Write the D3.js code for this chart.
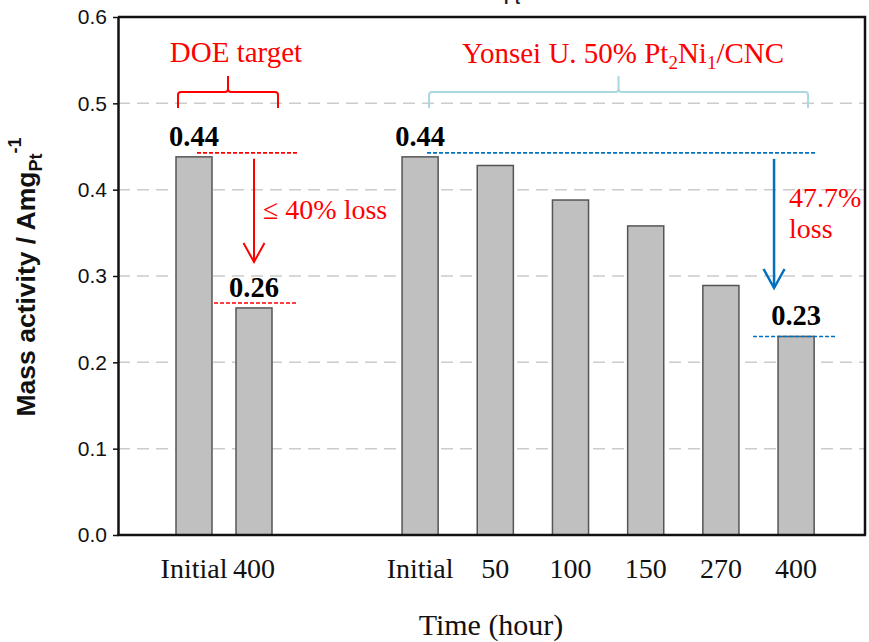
<!DOCTYPE html>
<html>
<head>
<meta charset="utf-8">
<script src="https://cdn.jsdelivr.net/npm/d3@7"></script>
<style>
  body { margin: 0; background: #fff; }
</style>
</head>
<body>
<div id="chart"></div>
<script>
// Data
const doeHours = ["Initial", "400"];
const doeValues = [0.438, 0.263];
const yonseiHours = ["Initial", "50", "100", "150", "270", "400"];
const yonseiValues = [0.438, 0.428, 0.388, 0.358, 0.289, 0.230];
const yTicks = [0, 0.1, 0.2, 0.3, 0.4, 0.5, 0.6];
const gridTicks = [0.1, 0.2, 0.3, 0.4, 0.5];
const doeLabels = ["0.44", "0.26"];
const yonseiLabels = ["0.44", "", "", "", "", "0.23"];

/**
 * Proportions
 */
let svgWidth = 869;
let svgHeight = 642;
let plotLeft = 118;
let plotRight = 865;
let plotTop = 17;
let plotBottom = 535;

const serif = "'Liberation Serif', 'Times New Roman', serif";
const sans = "'Liberation Sans', Arial, sans-serif";
const red = "#ff0000";
const blue = "#0070c0";

const svg = d3.select("#chart")
    .append("svg")
    .attr("width", svgWidth)
    .attr("height", svgHeight);

const y = d3.scaleLinear().domain([0, 0.6]).range([plotBottom, plotTop]);

// two groups of bars, each with its own spacing
const xDoe = d3.scaleBand().domain(doeHours).range([164, 284])
    .paddingInner(0.4).paddingOuter(0.2);
const xYon = d3.scaleBand().domain(yonseiHours).range([382.5, 833.7])
    .paddingInner(0.52).paddingOuter(0.26);

// cut-off title fragment at the very top
svg.append("text")
    .attr("x", 512)
    .attr("y", 4)
    .attr("text-anchor", "middle")
    .attr("font-family", sans)
    .attr("font-weight", "bold")
    .attr("font-size", 16)
    .attr("fill", "#222")
    .text("Pt");

// grid
svg.append("g")
    .selectAll("line")
    .data(gridTicks)
    .enter()
    .append("line")
    .attr("x1", plotLeft)
    .attr("x2", plotRight)
    .attr("y1", d => y(d))
    .attr("y2", d => y(d))
    .attr("stroke", "#cccccc")
    .attr("stroke-width", 1.5)
    .attr("stroke-dasharray", "12,7");

// frame (top + right)
svg.append("path")
    .attr("d", `M${plotLeft},${plotTop}H${plotRight}V${plotBottom}`)
    .attr("fill", "none")
    .attr("stroke", "#111")
    .attr("stroke-width", 2.5);

// bars
function drawBars(scale, hours, values) {
    svg.append("g")
        .selectAll("rect")
        .data(values)
        .enter()
        .append("rect")
        .attr("x", (_, i) => scale(hours[i]))
        .attr("y", d => y(d))
        .attr("width", scale.bandwidth())
        .attr("height", d => y(0) - y(d))
        .attr("fill", "#c0c0c0")
        .attr("stroke", "#555")
        .attr("stroke-width", 1.5);
}
drawBars(xDoe, doeHours, doeValues);
drawBars(xYon, yonseiHours, yonseiValues);

// y axis
const yAxis = svg.append("g")
    .attr("transform", `translate(${plotLeft},0)`)
    .call(d3.axisLeft(y).tickValues(yTicks).tickSize(5).tickSizeOuter(0)
        .tickPadding(6).tickFormat(d3.format(".1f")));
yAxis.select(".domain").attr("stroke", "#111").attr("stroke-width", 2.5);
yAxis.selectAll(".tick line").attr("stroke", "#111").attr("stroke-width", 1.5);
yAxis.selectAll(".tick text")
    .attr("font-family", sans)
    .attr("font-size", 21)
    .attr("fill", "#111");

// x axis line
svg.append("line")
    .attr("x1", plotLeft - 1)
    .attr("x2", plotRight + 1)
    .attr("y1", plotBottom)
    .attr("y2", plotBottom)
    .attr("stroke", "#111")
    .attr("stroke-width", 2.5);

// x tick labels
function drawTickLabels(scale, hours) {
    svg.append("g")
        .selectAll("text")
        .data(hours)
        .enter()
        .append("text")
        .attr("x", d => scale(d) + scale.bandwidth() / 2)
        .attr("y", 578)
        .attr("text-anchor", "middle")
        .attr("font-family", serif)
        .attr("font-size", 28)
        .attr("fill", "#111")
        .text(d => d);
}
drawTickLabels(xDoe, doeHours);
drawTickLabels(xYon, yonseiHours);

// axis titles
svg.append("text")
    .attr("x", 491)
    .attr("y", 635)
    .attr("text-anchor", "middle")
    .attr("font-family", serif)
    .attr("font-size", 30)
    .attr("fill", "#111")
    .text("Time (hour)");

const yTitle = svg.append("text")
    .attr("transform", "translate(35,277) rotate(-90)")
    .attr("text-anchor", "middle")
    .attr("font-family", sans)
    .attr("font-weight", "bold")
    .attr("font-size", 26.5)
    .attr("fill", "#111");
yTitle.append("tspan").text("Mass activity / Amg");
yTitle.append("tspan").attr("font-size", 18).attr("dy", 7).text("Pt");
yTitle.append("tspan").attr("font-size", 18).attr("dy", -21).text("-1");

// value labels above bars
function drawValueLabels(scale, hours, values, labels) {
    const items = labels
        .map((label, i) => ({ label: label, hour: hours[i], value: values[i] }))
        .filter(d => d.label !== "");
    svg.append("g")
        .selectAll("text")
        .data(items)
        .enter()
        .append("text")
        .attr("x", d => scale(d.hour) + scale.bandwidth() / 2)
        .attr("y", d => y(d.value) - 11)
        .attr("text-anchor", "middle")
        .attr("font-family", serif)
        .attr("font-weight", "bold")
        .attr("font-size", 28.5)
        .attr("fill", "#000")
        .text(d => d.label);
}
drawValueLabels(xDoe, doeHours, doeValues, doeLabels);
drawValueLabels(xYon, yonseiHours, yonseiValues, yonseiLabels);

// braces over each group
function brace(x1, x2, yLine, color) {
    const xm = (x1 + x2) / 2;
    const d = `M${x1},${yLine + 16} V${yLine + 3} Q${x1},${yLine} ${x1 + 3},${yLine}`
        + ` H${xm - 3} Q${xm},${yLine} ${xm},${yLine - 3} V${yLine - 16}`
        + ` M${xm},${yLine - 3} Q${xm},${yLine} ${xm + 3},${yLine}`
        + ` H${x2 - 3} Q${x2},${yLine} ${x2},${yLine + 3} V${yLine + 16}`;
    svg.append("path")
        .attr("d", d)
        .attr("fill", "none")
        .attr("stroke", color)
        .attr("stroke-width", 2);
}
brace(xDoe("Initial") + 2, xDoe("400") + xDoe.bandwidth() + 6, 92, red);
brace(xYon("Initial") + 27, xYon("400") + 30, 92, "#a8d8e0");

svg.append("text")
    .attr("x", 236)
    .attr("y", 62)
    .attr("text-anchor", "middle")
    .attr("font-family", serif)
    .attr("font-size", 29)
    .attr("fill", red)
    .text("DOE target");

const yonTitle = svg.append("text")
    .attr("x", 623)
    .attr("y", 63)
    .attr("text-anchor", "middle")
    .attr("font-family", serif)
    .attr("font-size", 29)
    .attr("fill", red);
yonTitle.append("tspan").text("Yonsei U. 50% Pt");
yonTitle.append("tspan").attr("font-size", 19).attr("dy", 6).text("2");
yonTitle.append("tspan").attr("dy", -6).text("Ni");
yonTitle.append("tspan").attr("font-size", 19).attr("dy", 6).text("1");
yonTitle.append("tspan").attr("dy", -6).text("/CNC");

// dashed reference lines and arrows
function dashed(x1, x2, yy, color) {
    svg.append("line")
        .attr("x1", x1).attr("x2", x2)
        .attr("y1", yy).attr("y2", yy)
        .attr("stroke", color)
        .attr("stroke-width", 1.6)
        .attr("stroke-dasharray", "4,2");
}
function arrow(x, y1, y2, color, w) {
    svg.append("line")
        .attr("x1", x).attr("x2", x)
        .attr("y1", y1).attr("y2", y2)
        .attr("stroke", color)
        .attr("stroke-width", w);
    svg.append("path")
        .attr("d", `M${x - 10.5},${y2 - 19} L${x},${y2} L${x + 10.5},${y2 - 19}`)
        .attr("fill", "none")
        .attr("stroke", color)
        .attr("stroke-width", w);
}

const doeMid = xDoe("400") + xDoe.bandwidth() / 2;
dashed(xDoe("Initial") + xDoe.bandwidth() - 15, 297, y(doeValues[0]) - 4, red);
dashed(xDoe("Initial") + xDoe.bandwidth() + 2, 297, y(doeValues[1]) - 5, red);
arrow(doeMid, y(doeValues[0]) + 2, 262, red, 2);

svg.append("text")
    .attr("x", 263)
    .attr("y", 219)
    .attr("font-family", serif)
    .attr("font-size", 28)
    .attr("fill", red)
    .text("\u2264 40% loss");

dashed(xYon("Initial") + 25, 817, y(yonseiValues[0]) - 4, blue);
dashed(xYon("400") - 25, 835, y(yonseiValues[5]), blue);
arrow(xYon("400") - 4, y(yonseiValues[0]) + 2, 288, blue, 2.5);

svg.append("text")
    .attr("x", 789)
    .attr("y", 207)
    .attr("font-family", serif)
    .attr("font-size", 28)
    .attr("fill", red)
    .text("47.7%");
svg.append("text")
    .attr("x", 789)
    .attr("y", 238)
    .attr("font-family", serif)
    .attr("font-size", 28)
    .attr("fill", red)
    .text("loss");
</script>
</body>
</html>
